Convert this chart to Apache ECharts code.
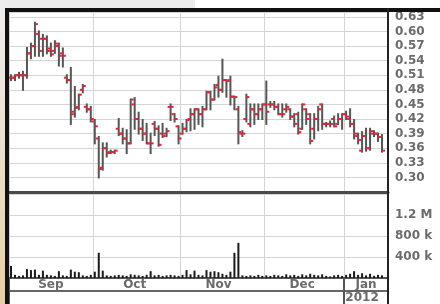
<!DOCTYPE html>
<html>
<head>
<meta charset="utf-8">
<script src="https://cdn.jsdelivr.net/npm/echarts@6/dist/echarts.min.js"></script>
<style>
  html, body { margin: 0; padding: 0; background: #fff; }
  #chart { width: 440px; height: 304px; }
</style>
</head>
<body>
<div id="chart"></div>
<script>
// months on the x axis and how many trading days each one has
var months = ['Sep', 'Oct', 'Nov', 'Dec', 'Jan'];
var monthDays = [21, 22, 21, 20, 11];
var monthLabelDay = [10, 10, 9, 9, 5];   // day in the month under which the name sits
var yearLabel = '2012';
var yearLabelDay = 4;                    // day of Jan under "2012"

// axis labels
var priceTicks = [0.30, 0.33, 0.36, 0.39, 0.42, 0.45, 0.48, 0.51, 0.54, 0.57, 0.60, 0.63];
var volumeTicks = [400000, 800000, 1200000];
var volumeTickLabels = ['400 k', '800 k', '1.2 M'];

// daily bars
var opens = [0.505,0.505,0.51,0.51,0.51,0.555,0.57,0.595,0.585,0.585,0.565,0.56,0.57,0.555,0.505,0.50,0.435,0.445,0.48,0.445,0.44,
  0.415,0.38,0.32,0.36,0.352,0.352,0.40,0.39,0.38,0.37,0.45,0.42,0.40,0.39,0.37,0.41,0.40,0.39,0.39,0.445,0.43,0.405,
  0.39,0.40,0.42,0.43,0.44,0.43,0.44,0.475,0.46,0.49,0.48,0.50,0.50,0.466,0.44,0.39,0.42,0.41,0.44,0.43,0.44,
  0.45,0.45,0.45,0.445,0.43,0.44,0.44,0.425,0.43,0.40,0.44,0.43,0.40,0.42,0.45,0.41,0.41,0.42,0.41,0.42,
  0.43,0.42,0.41,0.385,0.355,0.385,0.36,0.39,0.39,0.383];
var highs = [0.51,0.51,0.515,0.517,0.566,0.575,0.618,0.60,0.593,0.59,0.575,0.58,0.575,0.565,0.51,0.525,0.486,0.47,0.49,0.45,0.445,
  0.418,0.383,0.37,0.37,0.355,0.355,0.42,0.40,0.397,0.46,0.463,0.433,0.418,0.41,0.39,0.414,0.405,0.41,0.40,0.45,0.43,0.405,
  0.41,0.418,0.44,0.44,0.44,0.445,0.476,0.476,0.49,0.507,0.542,0.50,0.507,0.466,0.445,0.395,0.47,0.45,0.45,0.45,0.45,
  0.497,0.455,0.455,0.45,0.45,0.45,0.44,0.43,0.433,0.45,0.44,0.43,0.43,0.445,0.45,0.412,0.415,0.425,0.43,0.43,
  0.435,0.44,0.418,0.39,0.393,0.40,0.40,0.395,0.39,0.387];
var lows = [0.50,0.50,0.505,0.48,0.505,0.545,0.55,0.55,0.55,0.555,0.55,0.556,0.53,0.528,0.495,0.41,0.425,0.44,0.475,0.435,0.415,
  0.37,0.30,0.316,0.343,0.35,0.35,0.387,0.37,0.35,0.37,0.40,0.39,0.377,0.37,0.35,0.387,0.365,0.383,0.385,0.418,0.415,0.37,
  0.39,0.395,0.397,0.40,0.41,0.405,0.44,0.44,0.46,0.466,0.476,0.466,0.45,0.44,0.37,0.385,0.415,0.405,0.41,0.42,0.42,
  0.41,0.445,0.44,0.43,0.425,0.435,0.42,0.405,0.39,0.40,0.41,0.37,0.38,0.397,0.40,0.405,0.405,0.405,0.41,0.40,
  0.42,0.405,0.38,0.37,0.353,0.355,0.357,0.385,0.375,0.353];
var closes = [0.505,0.51,0.51,0.51,0.555,0.57,0.615,0.56,0.585,0.56,0.553,0.575,0.55,0.55,0.50,0.43,0.443,0.47,0.488,0.44,0.42,
  0.405,0.317,0.36,0.35,0.352,0.355,0.39,0.38,0.37,0.46,0.42,0.40,0.39,0.37,0.37,0.40,0.367,0.385,0.395,0.445,0.42,0.38,
  0.40,0.418,0.43,0.44,0.43,0.44,0.475,0.46,0.485,0.48,0.50,0.498,0.466,0.465,0.393,0.39,0.465,0.44,0.43,0.44,0.45,
  0.435,0.45,0.445,0.43,0.43,0.445,0.425,0.41,0.393,0.45,0.42,0.375,0.42,0.44,0.41,0.41,0.41,0.405,0.42,0.43,
  0.425,0.41,0.39,0.377,0.385,0.36,0.395,0.39,0.383,0.355];
var volumes = [230000,60000,40000,50000,170000,150000,160000,60000,140000,60000,50000,40000,130000,50000,40000,160000,120000,110000,50000,40000,60000,
  120000,480000,140000,50000,40000,50000,60000,50000,40000,70000,60000,50000,40000,60000,130000,50000,60000,40000,50000,60000,50000,40000,
  60000,150000,70000,140000,60000,50000,150000,120000,130000,110000,80000,60000,120000,480000,670000,50000,40000,50000,40000,60000,40000,
  50000,40000,60000,50000,40000,70000,50000,60000,40000,70000,50000,80000,60000,50000,70000,40000,30000,50000,60000,40000,
  60000,80000,130000,60000,90000,50000,80000,40000,60000,50000];

// categories, month starts and label positions
var days = [];
var monthStarts = [];
var labelAt = {};
months.forEach(function (m, k) {
  monthStarts.push(days.length);
  labelAt[days.length + monthLabelDay[k]] = m;
  for (var d = 0; d < monthDays[k]; d++) days.push(m + ' ' + (d + 1));
});
var janStart = monthStarts[4];
var yearIdx = janStart + yearLabelDay;

var bars = opens.map(function (o, i) {
  return [i, o, highs[i], lows[i], closes[i]];
});

var labelFont = { color: '#6b6b6b', fontFamily: 'DejaVu Sans', fontWeight: 'bold', fontSize: 12 };
var gridLine = { show: true, lineStyle: { color: '#d4d4d4', width: 1 } };

var myChart = echarts.init(document.getElementById('chart'));
var option = {
  animation: false,
  backgroundColor: '#fff',
  grid: [
    { left: 9, right: 52, top: 12, height: 180 },
    { left: 9, right: 52, top: 194, height: 84 }
  ],
  xAxis: [
    {
      type: 'category', gridIndex: 0, data: days, boundaryGap: true,
      axisLine: { show: true, lineStyle: { color: '#4a4a4a', width: 3 } },
      axisTick: { show: false }, axisLabel: { show: false },
      splitLine: Object.assign({ interval: function (i) { return monthStarts.indexOf(i) >= 0; } }, gridLine)
    },
    {
      type: 'category', gridIndex: 1, data: days, boundaryGap: true,
      axisLine: { show: true, lineStyle: { color: '#555', width: 2 } },
      axisTick: {
        show: true, inside: false, length: 26,
        interval: function (i) { return i === 0 || i === janStart; },
        lineStyle: { color: '#555', width: 2 }
      },
      axisLabel: Object.assign({
        margin: 1,
        interval: function (i) { return labelAt[i] !== undefined; },
        formatter: function (v, i) { return labelAt[i] || ''; }
      }, labelFont),
      splitLine: Object.assign({ interval: function (i) { return monthStarts.indexOf(i) >= 0; } }, gridLine)
    },
    {
      type: 'category', gridIndex: 1, data: days, boundaryGap: true,
      position: 'bottom', offset: 13,
      axisLine: { show: true, lineStyle: { color: '#666', width: 2 } },
      axisTick: { show: false },
      axisLabel: Object.assign({
        margin: 1,
        interval: function (i) { return i === yearIdx; },
        formatter: function (v, i) { return i === yearIdx ? yearLabel : ''; }
      }, labelFont),
      splitLine: { show: false }
    }
  ],
  yAxis: [
    {
      type: 'value', gridIndex: 0, position: 'right',
      min: 0.27, max: 0.64, interval: 0.03,
      axisLine: { show: false }, axisTick: { show: false },
      axisLabel: Object.assign({
        margin: 7,
        formatter: function (v) {
          for (var k = 0; k < priceTicks.length; k++) {
            if (Math.abs(priceTicks[k] - v) < 0.001) return priceTicks[k].toFixed(2);
          }
          return '';
        }
      }, labelFont),
      splitLine: gridLine
    },
    {
      type: 'value', gridIndex: 1, position: 'right',
      min: 0, max: 1600000, interval: 400000,
      axisLine: { show: false }, axisTick: { show: false },
      axisLabel: Object.assign({
        margin: 7,
        formatter: function (v) {
          var k = volumeTicks.indexOf(v);
          return k >= 0 ? volumeTickLabels[k] : '';
        }
      }, labelFont),
      splitLine: gridLine
    }
  ],
  series: [
    {
      name: 'price', type: 'custom', xAxisIndex: 0, yAxisIndex: 0,
      data: bars,
      encode: { x: 0, y: [1, 2, 3, 4] },
      renderItem: function (params, api) {
        var i = api.value(0);
        var o = api.coord([i, api.value(1)]);
        var h = api.coord([i, api.value(2)]);
        var l = api.coord([i, api.value(3)]);
        var c = api.coord([i, api.value(4)]);
        var tick = 3;
        return {
          type: 'group',
          children: [
            { type: 'line', shape: { x1: h[0], y1: h[1] - 1, x2: l[0], y2: l[1] + 1 },
              style: { stroke: '#555', lineWidth: 2 } },
            { type: 'line', shape: { x1: o[0] - tick, y1: o[1], x2: o[0], y2: o[1] },
              style: { stroke: '#d8283c', lineWidth: 2 } },
            { type: 'line', shape: { x1: c[0], y1: c[1], x2: c[0] + tick, y2: c[1] },
              style: { stroke: '#d8283c', lineWidth: 2 } }
          ]
        };
      }
    },
    {
      name: 'volume', type: 'bar', xAxisIndex: 1, yAxisIndex: 1,
      data: volumes, barWidth: 2,
      itemStyle: { color: '#1a1a1a' }
    }
  ],
  graphic: [
    { type: 'rect', left: 0, top: 0, z: 90, shape: { width: 195, height: 8 }, style: { fill: '#ececec' } },
    { type: 'rect', left: 0, top: 0, z: 90, shape: { width: 5, height: 304 },
      style: { fill: new echarts.graphic.LinearGradient(0, 0, 0, 1, [
        { offset: 0, color: '#eeeeee' }, { offset: 1, color: '#e6cfa6' }]) } },
    { type: 'rect', left: 5, top: 8, z: 100, shape: { width: 435, height: 4 }, style: { fill: '#111' } },
    { type: 'rect', left: 5, top: 8, z: 100, shape: { width: 4, height: 296 }, style: { fill: '#111' } },
    { type: 'rect', left: 387, top: 8, z: 100, shape: { width: 2, height: 296 }, style: { fill: '#222' } }
  ]
};
myChart.setOption(option);
</script>
</body>
</html>
